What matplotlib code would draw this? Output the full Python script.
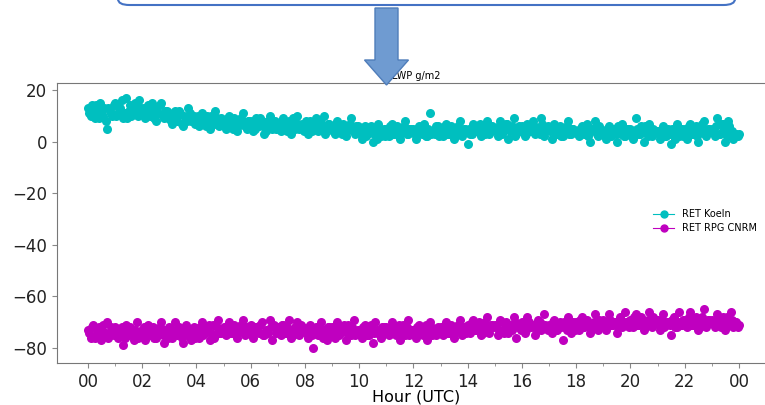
import numpy as np
import matplotlib
matplotlib.use('Agg')
import matplotlib.pyplot as plt
from matplotlib.lines import Line2D
from matplotlib.patches import FancyBboxPatch, FancyArrow

# LWP values, 10 samples per hour (every 6 min), last one at 24h
koeln = [
    13, 10, 12, 14, 9, 11, 13, 5, 12, 10,
    15, 11, 13, 9, 17, 12, 10, 14, 11, 16,
    12, 9, 14, 10, 13, 8, 11, 15, 9, 12,
    10, 7, 12, 8, 11, 6, 9, 13, 8, 10,
    9, 6, 11, 7, 10, 5, 8, 12, 7, 9,
    8, 5, 10, 6, 9, 4, 7, 11, 6, 8,
    7, 4, 9, 6, 8, 3, 7, 10, 5, 8,
    7, 4, 9, 5, 8, 3, 6, 10, 5, 7,
    7, 3, 8, 5, 9, 4, 6, 10, 5, 7,
    6, 3, 8, 4, 7, 2, 5, 9, 4, 6,
    4, 1, 6, 3, 5, 0, 4, 7, 2, 5,
    5, 2, 7, 3, 6, 1, 4, 8, 3, 5,
    5, 1, 6, 3, 7, 2, 11, 4, 3, 6,
    5, 2, 7, 3, 6, 1, 4, 8, 2, 5,
    -1, 3, 7, 4, 6, 2, 5, 8, 3, 6,
    5, 2, 8, 4, 7, 1, 5, 9, 3, 6,
    6, 2, 7, 4, 8, 3, 5, 9, 2, 5,
    5, 1, 7, 3, 6, 2, 4, 8, 3, 5,
    4, 2, 6, 3, 7, 0, 5, 8, 2, 4,
    4, 1, 6, 2, 5, 0, 4, 7, 2, 5,
    5, 1, 9, 3, 6, 0, 4, 7, 2, 4,
    4, 1, 6, 2, 5, -1, 3, 7, 2, 5,
    5, 1, 7, 3, 6, 0, 4, 8, 2, 5,
    5, 2, 9, 3, 7, 0, 8, 4, 1, 3,
    3,
]
# second pass of readings, 3 min after each of the above
koeln_mid = [
    11, 14, 9, 12, 15, 10, 8, 13, 11, 14,
    10, 13, 16, 11, 9, 14, 12, 15, 10, 13,
    13, 10, 12, 15, 9, 11, 14, 10, 12, 9,
    8, 11, 9, 12, 7, 10, 8, 11, 9, 7,
    10, 7, 9, 6, 8, 10, 7, 9, 6, 8,
    6, 9, 7, 5, 8, 6, 9, 7, 5, 8,
    8, 5, 7, 9, 6, 4, 8, 6, 7, 5,
    5, 8, 6, 4, 7, 9, 5, 7, 6, 4,
    8, 6, 4, 7, 5, 8, 6, 3, 7, 6,
    4, 7, 5, 3, 6, 4, 7, 5, 3, 6,
    3, 5, 2, 4, 6, 3, 1, 5, 4, 2,
    4, 6, 3, 5, 2, 4, 6, 3, 5, 4,
    3, 5, 4, 6, 2, 5, 3, 4, 6, 2,
    4, 6, 3, 5, 4, 2, 6, 3, 5, 4,
    5, 3, 6, 4, 7, 5, 3, 6, 4, 5,
    4, 6, 3, 5, 7, 4, 6, 2, 5, 4,
    5, 3, 6, 4, 6, 5, 3, 7, 4, 6,
    4, 6, 3, 5, 2, 4, 6, 3, 5, 4,
    3, 5, 4, 6, 2, 4, 5, 3, 6, 3,
    3, 5, 2, 4, 3, 6, 3, 2, 5, 3,
    4, 2, 5, 3, 4, 6, 2, 3, 5, 4,
    3, 5, 2, 4, 3, 5, 1, 4, 3, 2,
    4, 6, 3, 5, 2, 4, 7, 3, 5, 4,
    4, 6, 3, 7, 5, 2, 6, 4, 3, 2,
]
cnrm = [
    -73, -76, -71, -75, -72, -77, -74, -70, -75, -73,
    -72, -76, -74, -79, -71, -75, -73, -77, -70, -74,
    -73, -77, -71, -75, -72, -76, -74, -70, -78, -73,
    -72, -76, -70, -75, -73, -78, -71, -74, -77, -72,
    -73, -76, -70, -74, -72, -77, -71, -75, -69, -74,
    -72, -75, -70, -74, -71, -76, -73, -69, -75, -72,
    -71, -76, -72, -74, -70, -75, -73, -69, -77, -72,
    -72, -75, -71, -74, -69, -76, -73, -70, -75, -72,
    -73, -76, -71, -80, -72, -75, -70, -74, -77, -72,
    -72, -76, -70, -74, -73, -77, -71, -75, -69, -74,
    -73, -76, -71, -75, -72, -78, -70, -74, -76, -72,
    -72, -75, -70, -74, -73, -77, -71, -75, -69, -73,
    -73, -76, -71, -74, -72, -77, -70, -75, -73, -72,
    -72, -75, -70, -74, -71, -76, -73, -69, -75, -72,
    -71, -74, -69, -73, -70, -75, -72, -68, -74, -71,
    -71, -75, -69, -73, -70, -74, -72, -68, -76, -71,
    -70, -74, -68, -72, -71, -75, -69, -73, -67, -72,
    -71, -74, -69, -73, -70, -77, -72, -68, -74, -70,
    -70, -73, -68, -72, -69, -74, -71, -67, -73, -70,
    -69, -73, -67, -71, -70, -74, -68, -72, -66, -71,
    -69, -72, -67, -71, -68, -73, -70, -66, -72, -69,
    -69, -73, -67, -71, -70, -75, -68, -72, -66, -71,
    -69, -72, -66, -71, -68, -73, -70, -65, -72, -69,
    -69, -72, -67, -71, -68, -73, -70, -66, -72, -70,
    -71,
]
cnrm_mid = [
    -74, -72, -76, -73, -75, -71, -74, -76, -72, -75,
    -75, -73, -72, -76, -74, -72, -75, -73, -76, -74,
    -72, -75, -74, -73, -76, -74, -72, -75, -73, -76,
    -75, -73, -74, -72, -76, -73, -75, -73, -74, -76,
    -74, -72, -75, -73, -71, -74, -76, -72, -74, -73,
    -73, -71, -74, -72, -75, -73, -71, -74, -72, -74,
    -74, -72, -73, -71, -75, -73, -74, -72, -71, -74,
    -73, -71, -74, -72, -73, -75, -72, -74, -71, -73,
    -74, -72, -75, -73, -74, -72, -76, -73, -72, -75,
    -74, -72, -75, -73, -71, -74, -73, -72, -75, -73,
    -74, -72, -73, -75, -71, -74, -73, -75, -72, -74,
    -73, -74, -72, -75, -71, -73, -74, -72, -75, -73,
    -74, -72, -73, -75, -71, -74, -72, -73, -75, -74,
    -73, -71, -74, -72, -73, -74, -71, -73, -72, -74,
    -72, -70, -73, -71, -72, -74, -70, -73, -71, -72,
    -72, -73, -70, -74, -72, -71, -73, -70, -72, -73,
    -71, -73, -70, -72, -71, -73, -70, -72, -71, -73,
    -72, -70, -73, -71, -72, -70, -73, -71, -72, -73,
    -71, -69, -72, -70, -71, -73, -70, -72, -69, -71,
    -70, -72, -69, -71, -70, -72, -69, -71, -70, -72,
    -70, -68, -71, -69, -70, -72, -69, -71, -68, -70,
    -71, -69, -72, -70, -71, -69, -72, -70, -71, -69,
    -70, -68, -71, -69, -70, -72, -68, -71, -69, -70,
    -70, -71, -69, -72, -70, -68, -71, -69, -70, -72,
]
hours = np.arange(len(koeln)) / 10.0
hours_mid = np.arange(len(koeln_mid)) / 10.0 + 0.05
tick_hours = list(range(0, 25, 2))
tick_labels = ['%02d' % (h % 24) for h in tick_hours]
names = ['RET Koeln', 'RET RPG CNRM']
colors = ['c', 'm']

fig = plt.figure(figsize=(7.65, 4.05), dpi=100)
W, H = 765.0, 405.0

# axes (right side runs past the cropped image edge)
ax = fig.add_axes([57 / W, 1 - 363 / H, (775 - 57) / W, (363 - 83) / H])
ax.plot(hours, koeln, 'o', color=colors[0], ms=6.5, mew=0)
ax.plot(hours_mid, koeln_mid, 'o', color=colors[0], ms=6.5, mew=0)
ax.plot(hours, cnrm, 'o', color=colors[1], ms=6.5, mew=0)
ax.plot(hours_mid, cnrm_mid, 'o', color=colors[1], ms=6.5, mew=0)

ax.set_xlim(-1.14, 25.33)
ax.set_ylim(-85.8, 22.7)
ax.set_xticks(tick_hours)
ax.set_xticklabels(tick_labels)
ax.set_xticks(range(0, 25), minor=True)
ax.set_yticks([20, 0, -20, -40, -60, -80])
ax.tick_params(labelsize=12, colors='#222222')
ax.tick_params(axis='both', which='both', color='#888888')
for s in ax.spines.values():
    s.set_color('#777777')
ax.set_xlabel('Hour (UTC)', fontsize=11.5, labelpad=-1)
ax.set_title('LWP g/m2', fontsize=7, pad=3)

handles = [Line2D([0], [0], color=c, marker='o', ms=5, lw=0.8) for c in colors]
fig.legend(handles, names, loc='center left', bbox_to_anchor=(648 / W, 1 - 221 / H),
           frameon=False, fontsize=7, handlelength=2.2, labelspacing=0.4, borderpad=0)

# slide decorations above the chart: text box edge and arrow
box = FancyBboxPatch((118 / W, 1 - 5 / H), (735 - 118) / W, 40 / H,
                     boxstyle='round,pad=0,rounding_size=0.015',
                     transform=fig.transFigure, facecolor='white',
                     edgecolor='#4472C4', lw=1.5, zorder=5)
fig.patches.append(box)
arrow = FancyArrow(386.5 / W, 1 - 8 / H, 0, -(85 - 8) / H, width=23 / W,
                   head_width=44 / W, head_length=25 / H, length_includes_head=True,
                   transform=fig.transFigure, facecolor='#6F9BD1',
                   edgecolor='#4F7DBA', lw=1, zorder=6)
fig.patches.append(arrow)

fig.savefig('out.png', dpi=100)
